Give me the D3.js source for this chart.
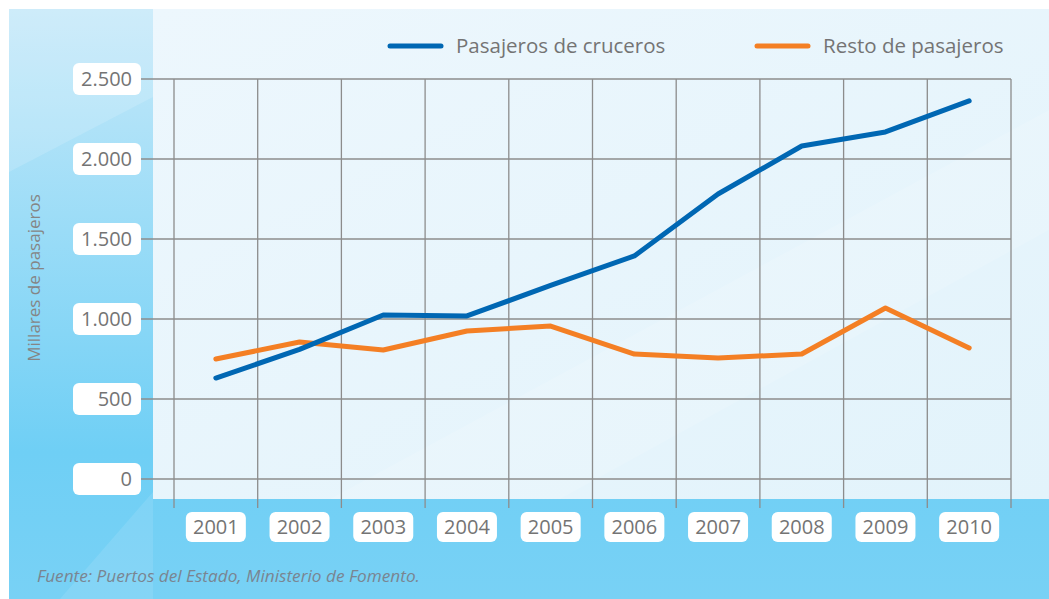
<!DOCTYPE html>
<html>
<head>
<meta charset="utf-8">
<script src="https://cdn.jsdelivr.net/npm/d3@7"></script>
<style>
  html, body { margin: 0; padding: 0; background: #fff; }
  svg { display: block; font-family: "Open Sans", sans-serif; }
</style>
</head>
<body>
<script>
// data
var years    = ['2001', '2002', '2003', '2004', '2005', '2006', '2007', '2008', '2009', '2010'];
var cruceros = [631, 810, 1025, 1019, 1210, 1394, 1781, 2081, 2169, 2363];
var resto    = [750, 856, 806, 925, 956, 781, 756, 781, 1069, 819];
var yTicks   = [0, 500, 1000, 1500, 2000, 2500];
var seriesNames = ['Pasajeros de cruceros', 'Resto de pasajeros'];

// init
var width  = 1049,
    height = 599,
    blue   = '#0067b3',
    orange = '#f47f24',
    grey   = '#747474';

var svg = d3.select('body').append('svg')
    .attr('width', width)
    .attr('height', height);

// scales
var xScale = d3.scaleBand().domain(years).range([174, 1011]);
var yScale = d3.scaleLinear().domain([0, 2500]).range([479, 79]);

// number format with dot separator
var fmt = d3.formatLocale({ decimal: ',', thousands: '.', grouping: [3], currency: ['', '€'] }).format(',d');

// gradients
var defs = svg.append('defs');
var g1 = defs.append('linearGradient').attr('id', 'outer').attr('x1', 0).attr('y1', 0).attr('x2', 0).attr('y2', 1);
g1.append('stop').attr('offset', '0%').attr('stop-color', '#c6e9f9');
g1.append('stop').attr('offset', '75%').attr('stop-color', '#6fcff5');
g1.append('stop').attr('offset', '100%').attr('stop-color', '#78d1f5');
var g2 = defs.append('linearGradient').attr('id', 'inner').attr('x1', 0).attr('y1', 0).attr('x2', 1).attr('y2', 1);
g2.append('stop').attr('offset', '0%').attr('stop-color', '#edf7fd');
g2.append('stop').attr('offset', '100%').attr('stop-color', '#e2f3fb');

// background panels
svg.append('rect').attr('x', 9).attr('y', 9).attr('width', width - 9).attr('height', height - 9)
    .attr('fill', 'url(#outer)');
// glass reflections on the left strip
svg.append('polygon').attr('points', '9,9 153,9 153,97 9,172')
    .attr('fill', '#fff').attr('opacity', 0.15);
svg.append('polygon').attr('points', '60,599 153,492 153,599')
    .attr('fill', '#fff').attr('opacity', 0.1);
svg.append('rect').attr('x', 153).attr('y', 9).attr('width', width - 153).attr('height', 490)
    .attr('fill', 'url(#inner)');
svg.append('polygon').attr('points', '330,499 560,499 1049,230 1049,110')
    .attr('fill', '#fff').attr('opacity', 0.12);

// grid
var grid = svg.append('g').attr('stroke', '#8c8c8c').attr('stroke-width', 1.3);
grid.selectAll('.h').data(yTicks).enter().append('line')
    .attr('x1', 141).attr('x2', xScale.range()[1])
    .attr('y1', function(d) { return yScale(d); })
    .attr('y2', function(d) { return yScale(d); });
var vx = years.map(function(d) { return xScale(d); }).concat([xScale.range()[1]]);
grid.selectAll('.v').data(vx).enter().append('line')
    .attr('x1', function(d) { return d; }).attr('x2', function(d) { return d; })
    .attr('y1', yScale(2500)).attr('y2', 508);

// y labels
var yl = svg.append('g').selectAll('g').data(yTicks).enter().append('g')
    .attr('transform', function(d) { return 'translate(0,' + yScale(d) + ')'; });
yl.append('rect').attr('x', 73).attr('y', -16).attr('width', 68).attr('height', 32)
    .attr('rx', 6).attr('fill', '#fff');
yl.append('text').attr('x', 132).attr('y', 7).attr('text-anchor', 'end')
    .attr('font-size', 20).attr('fill', grey).text(function(d) { return fmt(d); });

// x labels
var xl = svg.append('g').selectAll('g').data(years).enter().append('g')
    .attr('transform', function(d) { return 'translate(' + (xScale(d) + xScale.bandwidth() / 2) + ',527)'; });
xl.append('rect').attr('x', -30).attr('y', -15).attr('width', 60).attr('height', 30)
    .attr('rx', 6).attr('fill', '#fff');
xl.append('text').attr('y', 7).attr('text-anchor', 'middle')
    .attr('font-size', 20).attr('fill', grey).text(function(d) { return d; });

// lines
var line = d3.line()
    .x(function(d, i) { return xScale(years[i]) + xScale.bandwidth() / 2; })
    .y(function(d) { return yScale(d); });
[[resto, orange], [cruceros, blue]].forEach(function(s) {
    svg.append('path').datum(s[0])
        .attr('d', line)
        .attr('fill', 'none')
        .attr('stroke', s[1])
        .attr('stroke-width', 5)
        .attr('stroke-linejoin', 'round')
        .attr('stroke-linecap', 'round');
});

// legend
var legend = [
    { name: seriesNames[0], color: blue, x: 390 },
    { name: seriesNames[1], color: orange, x: 757 }
];
var lg = svg.append('g').selectAll('g').data(legend).enter().append('g')
    .attr('transform', function(d) { return 'translate(' + d.x + ',46)'; });
lg.append('line').attr('x1', 0).attr('x2', 51)
    .attr('stroke', function(d) { return d.color; })
    .attr('stroke-width', 5).attr('stroke-linecap', 'round');
lg.append('text').attr('x', 66).attr('y', 7).attr('font-size', 20.5).attr('fill', grey)
    .text(function(d) { return d.name; });

// y title
svg.append('text')
    .attr('transform', 'translate(40,278) rotate(-90)')
    .attr('text-anchor', 'middle')
    .attr('font-size', 17)
    .attr('fill', '#858585')
    .text('Millares de pasajeros');

// source
svg.append('text')
    .attr('x', 37).attr('y', 582)
    .attr('font-size', 17.2)
    .attr('font-style', 'italic')
    .attr('fill', '#7a8591')
    .text('Fuente: Puertos del Estado, Ministerio de Fomento.');
</script>
</body>
</html>
